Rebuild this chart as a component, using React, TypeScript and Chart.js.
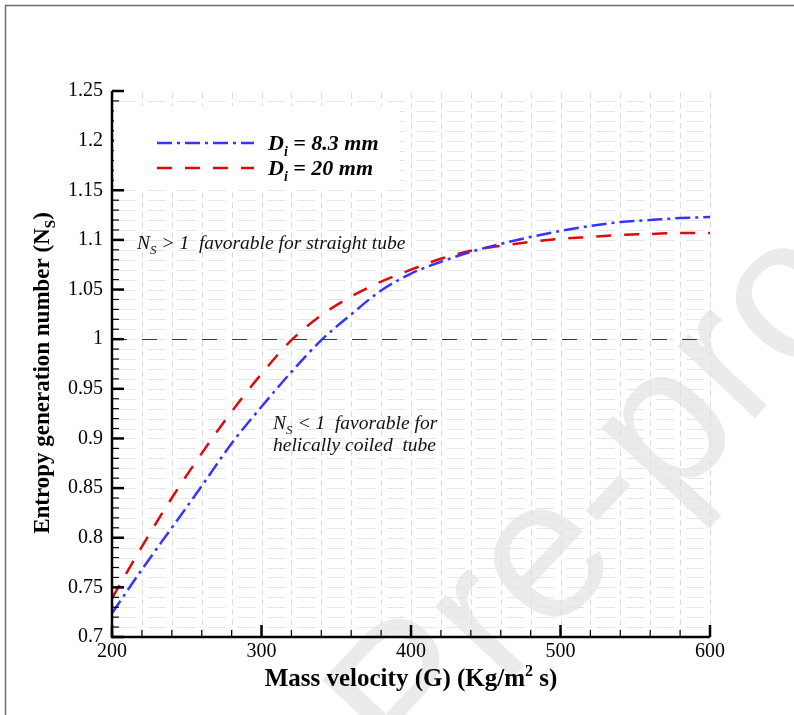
import React, { useEffect, useRef } from "react";
import { Chart, registerables } from "chart.js";

Chart.register(...registerables);

// ---- data ----
const massVelocity = [200, 220, 240, 260, 280, 300, 320, 340, 360, 380, 400, 420, 440, 460, 480, 500, 520, 540, 560, 580, 600];
const nsDi83 = [0.724, 0.768, 0.810, 0.852, 0.895, 0.932, 0.967, 0.999, 1.025, 1.049, 1.066, 1.078, 1.088, 1.096, 1.103, 1.109, 1.114, 1.118, 1.120, 1.122, 1.123];
const nsDi20 = [0.739, 0.791, 0.840, 0.885, 0.927, 0.965, 0.999, 1.024, 1.043, 1.058, 1.070, 1.081, 1.089, 1.094, 1.098, 1.101, 1.103, 1.105, 1.106, 1.107, 1.107];
const seriesNames = ["8.3 mm", "20 mm"];
const xMin = 200, xMax = 600, xMajor = 100, xMinor = 20;
const yMin = 0.7, yMax = 1.25, yMajor = 0.05, yMinor = 0.01;
const referenceLevel = 1;

const BLUE = "#3535ff";
const RED = "#dd0a0a";
const BLUE_DASH = [15, 5, 3, 5];
const RED_DASH = [15, 13];
const SERIF = "'Liberation Serif', 'Times New Roman', serif";

type Part = { t: string; sub?: boolean; sup?: boolean };

function drawRich(ctx: CanvasRenderingContext2D, parts: Part[], x: number, y: number, style: string, size: number, align: "left" | "center") {
  const base = `${style} ${size}px ${SERIF}`;
  const small = `${style} ${Math.round(size * 0.65)}px ${SERIF}`;
  let total = 0;
  for (const p of parts) {
    ctx.font = p.sub || p.sup ? small : base;
    total += ctx.measureText(p.t).width;
  }
  let cx = align === "center" ? x - total / 2 : x;
  ctx.textAlign = "left";
  ctx.textBaseline = "alphabetic";
  for (const p of parts) {
    ctx.font = p.sub || p.sup ? small : base;
    const dy = p.sub ? size * 0.28 : p.sup ? -size * 0.42 : 0;
    ctx.fillText(p.t, cx, y + dy);
    cx += ctx.measureText(p.t).width;
  }
}

const decorPlugin = {
  id: "decor",
  beforeDraw(chart: any) {
    const ctx: CanvasRenderingContext2D = chart.ctx;
    ctx.save();
    ctx.fillStyle = "#ffffff";
    ctx.fillRect(0, 0, chart.width, chart.height);
    // frame
    ctx.strokeStyle = "#6e6e6e";
    ctx.lineWidth = 1.5;
    ctx.beginPath();
    ctx.moveTo(5.5, chart.height);
    ctx.lineTo(5.5, 5.5);
    ctx.lineTo(chart.width, 5.5);
    ctx.stroke();
    // watermark
    ctx.translate(412, 786);
    ctx.rotate((-47 * Math.PI) / 180);
    ctx.font = "200px 'Liberation Sans', Arial, sans-serif";
    ctx.fillStyle = "#ebebeb";
    ctx.textBaseline = "alphabetic";
    ctx.textAlign = "left";
    const pre = ctx.measureText("Journal ").width;
    ctx.fillText("Journal Pre-proof", -pre, 0);
    ctx.restore();
  },
  beforeDatasetsDraw(chart: any) {
    const ctx: CanvasRenderingContext2D = chart.ctx;
    const xs = chart.scales.x, ys = chart.scales.y;
    const { left, right } = chart.chartArea;
    ctx.save();
    ctx.strokeStyle = "#e5e5e5";
    ctx.lineWidth = 1;
    const xLines: number[] = [];
    for (let v = xMin; v <= xMax + 1e-9; v += xMinor) xLines.push(xs.getPixelForValue(v));
    const yLines: number[] = [];
    const nY = Math.round((yMax - yMin) / yMinor);
    for (let k = 0; k <= nY; k++) yLines.push(ys.getPixelForValue(yMin + k * yMinor));
    // horizontal dashes between vertical lines
    for (let j = 1; j < yLines.length - 1; j++) {
      const y = Math.round(yLines[j]) + 0.5;
      for (let i = 0; i < xLines.length - 1; i++) {
        ctx.beginPath();
        ctx.moveTo(xLines[i] + 6, y);
        ctx.lineTo(xLines[i + 1] - 6, y);
        ctx.stroke();
      }
    }
    // vertical lines broken at rows
    ctx.strokeStyle = "#dcdcdc";
    for (let i = 1; i < xLines.length; i++) {
      const x = Math.round(xLines[i]) + 0.5;
      for (let j = 0; j < yLines.length - 1; j++) {
        ctx.beginPath();
        ctx.moveTo(x, yLines[j] - 2);
        ctx.lineTo(x, yLines[j + 1] + 2);
        ctx.stroke();
      }
    }
    // reference line N_S = 1
    const yr = Math.round(ys.getPixelForValue(referenceLevel)) + 0.5;
    ctx.strokeStyle = "#3a3a3a";
    ctx.setLineDash([15, 15]);
    ctx.beginPath();
    ctx.moveTo(left, yr);
    ctx.lineTo(right, yr);
    ctx.stroke();
    ctx.restore();
  },
  afterDatasetsDraw(chart: any) {
    const ctx: CanvasRenderingContext2D = chart.ctx;
    const xs = chart.scales.x, ys = chart.scales.y;
    const { left, right, top, bottom } = chart.chartArea;
    ctx.save();
    ctx.fillStyle = "#000";
    ctx.strokeStyle = "#000";
    // axis lines
    ctx.lineWidth = 2.5;
    ctx.beginPath();
    ctx.moveTo(left, top);
    ctx.lineTo(left, bottom);
    ctx.lineTo(right, bottom);
    ctx.stroke();
    // y ticks
    const nY = Math.round((yMax - yMin) / yMinor);
    for (let k = 0; k <= nY; k++) {
      const v = yMin + k * yMinor;
      const major = k % Math.round(yMajor / yMinor) === 0;
      const y = ys.getPixelForValue(v);
      ctx.lineWidth = major ? 2.5 : 1.2;
      ctx.beginPath();
      ctx.moveTo(left, y);
      ctx.lineTo(left + (major ? 12 : 7), y);
      ctx.stroke();
    }
    const nX = Math.round((xMax - xMin) / xMinor);
    for (let k = 0; k <= nX; k++) {
      const v = xMin + k * xMinor;
      const major = k % Math.round(xMajor / xMinor) === 0;
      const x = xs.getPixelForValue(v);
      ctx.lineWidth = major ? 2.5 : 1.2;
      ctx.beginPath();
      ctx.moveTo(x, bottom);
      ctx.lineTo(x, bottom - (major ? 12 : 7));
      ctx.stroke();
    }
    // legend box
    ctx.fillStyle = "#ffffff";
    ctx.fillRect(left + 2, 106, 286, 82);
    const legendRows = [
      { name: seriesNames[0], color: BLUE, dash: BLUE_DASH, y: 143 },
      { name: seriesNames[1], color: RED, dash: RED_DASH, y: 168 },
    ];
    for (const r of legendRows) {
      ctx.strokeStyle = r.color;
      ctx.lineWidth = 2.5;
      ctx.setLineDash(r.dash);
      ctx.beginPath();
      ctx.moveTo(157, r.y);
      ctx.lineTo(254, r.y);
      ctx.stroke();
      ctx.setLineDash([]);
      ctx.fillStyle = "#000";
      drawRich(ctx, [{ t: "D" }, { t: "i", sub: true }, { t: " = " + r.name }], 268, r.y + 7, "italic bold", 22, "left");
    }
    // annotations
    ctx.fillStyle = "#111";
    drawRich(ctx, [{ t: "N" }, { t: "S", sub: true }, { t: " > 1  favorable for straight tube" }], 137, 249, "italic", 19.5, "left");
    drawRich(ctx, [{ t: "N" }, { t: "S", sub: true }, { t: " < 1  favorable for" }], 273, 429, "italic", 19.5, "left");
    drawRich(ctx, [{ t: "helically coiled  tube" }], 273, 451, "italic", 19.5, "left");
    // axis titles
    ctx.fillStyle = "#000";
    drawRich(ctx, [{ t: "Mass velocity (G) (Kg/m" }, { t: "2", sup: true }, { t: " s)" }], 411, 686, "bold", 25, "center");
    ctx.save();
    ctx.translate(49, 373);
    ctx.rotate(-Math.PI / 2);
    drawRich(ctx, [{ t: "Entropy generation number (N" }, { t: "S", sub: true }, { t: ")" }], 0, 0, "bold", 23, "center");
    ctx.restore();
    ctx.restore();
  },
};

export default function App() {
  const ref = useRef<HTMLCanvasElement | null>(null);
  useEffect(() => {
    document.body.style.margin = "0";
    const canvas = ref.current!;
    const chart = new Chart(canvas, {
      type: "line",
      data: {
        datasets: [
          {
            label: "Di = " + seriesNames[0],
            data: massVelocity.map((g, i) => ({ x: g, y: nsDi83[i] })),
            borderColor: BLUE,
            borderWidth: 2.5,
            borderDash: BLUE_DASH,
            pointRadius: 0,
            cubicInterpolationMode: "monotone",
            fill: false,
          },
          {
            label: "Di = " + seriesNames[1],
            data: massVelocity.map((g, i) => ({ x: g, y: nsDi20[i] })),
            borderColor: RED,
            borderWidth: 2.5,
            borderDash: RED_DASH,
            pointRadius: 0,
            cubicInterpolationMode: "monotone",
            fill: false,
          },
        ],
      },
      options: {
        animation: false,
        responsive: false,
        devicePixelRatio: 1,
        layout: { padding: { left: 0, right: 84, top: 91, bottom: 0 } },
        plugins: { legend: { display: false }, tooltip: { enabled: false } },
        scales: {
          x: {
            type: "linear",
            min: xMin,
            max: xMax,
            grid: { display: false, drawTicks: false },
            border: { display: false },
            ticks: { stepSize: xMajor, color: "#000", font: { family: SERIF, size: 20 }, padding: 3, maxRotation: 0 },
            afterFit: (s: any) => { s.height = 78; },
          },
          y: {
            type: "linear",
            min: yMin,
            max: yMax,
            grid: { display: false, drawTicks: false },
            border: { display: false },
            ticks: {
              stepSize: yMajor,
              color: "#000",
              font: { family: SERIF, size: 20 },
              padding: 9,
              callback: (v: any) => String(Math.round(Number(v) * 100) / 100),
            },
            afterFit: (s: any) => { s.width = 112; },
          },
        },
      },
      plugins: [decorPlugin],
    } as any);
    return () => chart.destroy();
  }, []);
  return (
    <div style={{ width: 794, height: 715, position: "relative" }}>
      <canvas ref={ref} width={794} height={715} style={{ display: "block", width: 794, height: 715 }} />
    </div>
  );
}
